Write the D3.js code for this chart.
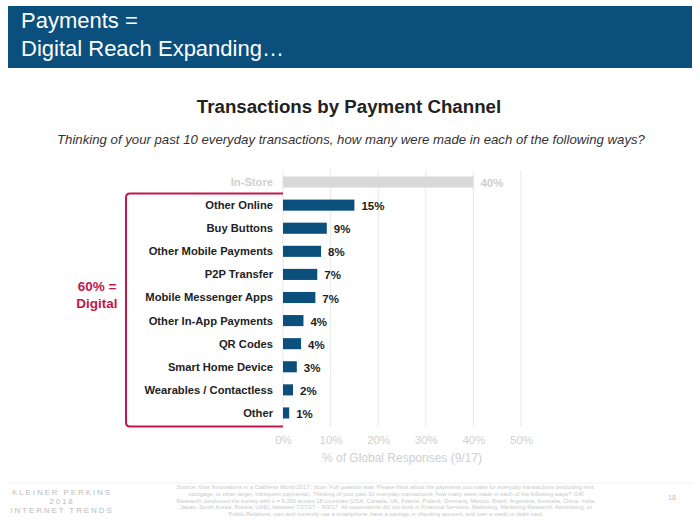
<!DOCTYPE html>
<html>
<head>
<meta charset="utf-8">
<script src="https://cdn.jsdelivr.net/npm/d3@7"></script>
<style>
  html, body { margin: 0; padding: 0; background: #fff; }
  svg { display: block; font-family: "Liberation Sans", Arial, sans-serif; }
</style>
</head>
<body>
<svg id="chart" width="700" height="525"></svg>
<script>
// ---- data ----
const categories = ["In-Store", "Other Online", "Buy Buttons", "Other Mobile Payments", "P2P Transfer",
  "Mobile Messenger Apps", "Other In-App Payments", "QR Codes", "Smart Home Device",
  "Wearables / Contactless", "Other"];
const values = [40, 15, 9.2, 8, 7.2, 6.8, 4.3, 3.8, 2.9, 2.1, 1.3];
const valueLabels = ["40%", "15%", "9%", "8%", "7%", "7%", "4%", "4%", "3%", "2%", "1%"];
const xTicks = [0, 10, 20, 30, 40, 50];
const digitalShare = ["60% =", "Digital"];

const svg = d3.select("#chart");

// header bar
svg.append("rect").attr("x", 8).attr("y", 6).attr("width", 684).attr("height", 62).attr("fill", "#0B4F7C");
svg.append("text").attr("x", 21).attr("y", 28).attr("fill", "#fff").attr("font-size", 22).text("Payments =");
svg.append("text").attr("x", 21).attr("y", 56).attr("fill", "#fff").attr("font-size", 22).text("Digital Reach Expanding…");

// titles
svg.append("text").attr("x", 349).attr("y", 113).attr("text-anchor", "middle").attr("font-weight", "bold")
  .attr("font-size", 18.7).attr("fill", "#222").text("Transactions by Payment Channel");
svg.append("text").attr("x", 351).attr("y", 144).attr("text-anchor", "middle").attr("font-style", "italic")
  .attr("font-size", 13.2).attr("fill", "#333")
  .text("Thinking of your past 10 everyday transactions, how many were made in each of the following ways?");

// scales
const x = d3.scaleLinear().domain([0, 50]).range([283, 521]);
const y = d3.scaleBand().domain(categories).range([170.5, 424.5]).paddingInner(0.52).paddingOuter(0.26);

// grid
const g = svg.append("g");
g.selectAll("line.grid").data(xTicks).enter().append("line")
  .attr("x1", d => x(d)).attr("x2", d => x(d)).attr("y1", 170).attr("y2", 427)
  .attr("stroke", "#ececec").attr("stroke-width", 1.2);

// bars
categories.forEach((c, i) => {
  const first = i === 0;
  g.append("rect").attr("x", x(0)).attr("y", y(c)).attr("width", x(values[i]) - x(0))
    .attr("height", y.bandwidth()).attr("fill", first ? "#d9d9d9" : "#0B4F7C");
  g.append("text").attr("x", 273).attr("y", y(c) + y.bandwidth() / 2).attr("dy", "0.35em")
    .attr("text-anchor", "end").attr("font-weight", "bold").attr("font-size", 11.2)
    .attr("fill", first ? "#cfcfcf" : "#222").text(c);
  g.append("text").attr("x", x(values[i]) + 7).attr("y", y(c) + y.bandwidth() / 2 + 1).attr("dy", "0.35em")
    .attr("font-weight", "bold").attr("font-size", 11.5)
    .attr("fill", first ? "#cfcfcf" : "#222").text(valueLabels[i]);
});

// x axis
const axis = svg.append("g").attr("transform", "translate(0,433)")
  .call(d3.axisBottom(x).tickValues(xTicks).tickFormat(d => d + "%").tickSize(0));
axis.select(".domain").remove();
axis.selectAll("text").attr("fill", "#cfcfcf").attr("font-size", 11.5).attr("font-family", "Liberation Sans, Arial, sans-serif");
svg.append("text").attr("x", 402).attr("y", 462).attr("text-anchor", "middle").attr("font-size", 12)
  .attr("fill", "#cfcfcf").text("% of Global Responses (9/17)");

// digital bracket
const bTop = y(categories[1]) - 6, bBot = y(categories[categories.length - 1]) + y.bandwidth() + 8;
const path = d3.path();
path.moveTo(x(0), bTop);
path.lineTo(130, bTop);
path.quadraticCurveTo(126, bTop, 126, bTop + 4);
path.lineTo(126, bBot - 4);
path.quadraticCurveTo(126, bBot, 130, bBot);
path.lineTo(x(0), bBot);
svg.append("path").attr("d", path.toString()).attr("fill", "none").attr("stroke", "#C3164C").attr("stroke-width", 2);
svg.append("text").attr("x", 97).attr("y", 291).attr("text-anchor", "middle").attr("font-weight", "bold")
  .attr("font-size", 13.5).attr("fill", "#C3164C").text(digitalShare[0]);
svg.append("text").attr("x", 97).attr("y", 308).attr("text-anchor", "middle").attr("font-weight", "bold")
  .attr("font-size", 13.5).attr("fill", "#C3164C").text(digitalShare[1]);

// footer
svg.append("line").attr("x1", 8).attr("x2", 692).attr("y1", 483).attr("y2", 483).attr("stroke", "#f0f0f0");
const logo = ["KLEINER PERKINS", "2018", "INTERNET TRENDS"];
logo.forEach((t, i) => svg.append("text").attr("x", 62).attr("y", 495 + i * 9).attr("text-anchor", "middle")
  .attr("font-size", 8).attr("letter-spacing", 1.9).attr("fill", "#bbb").text(t));
const source = [
  "Source: Visa 'Innovations in a Cashless World 2017'. Note: Full question was 'Please think about the payments you make for everyday transactions (excluding rent,",
  "mortgage, or other larger, infrequent payments). Thinking of your past 10 everyday transactions, how many were made in each of the following ways?' GfK",
  "Research conducted the survey with n = 9,200 across 18 countries (USA, Canada, UK, France, Poland, Germany, Mexico, Brazil, Argentina, Australia, China, India,",
  "Japan, South Korea, Russia, UAE), between 7/27/17 – 8/3/17. All respondents did not work in Financial Services, Marketing, Marketing Research, Advertising, or",
  "Public Relations, own and currently use a smartphone, have a savings or checking account, and own a credit or debit card."
];
source.forEach((t, i) => svg.append("text").attr("x", 386).attr("y", 489 + i * 6.8).attr("text-anchor", "middle")
  .attr("font-size", 5.8).attr("fill", "#c8c8c8").text(t));
svg.append("text").attr("x", 672).attr("y", 500).attr("text-anchor", "middle").attr("font-size", 7)
  .attr("fill", "#bbb").text("18");
</script>
</body>
</html>
